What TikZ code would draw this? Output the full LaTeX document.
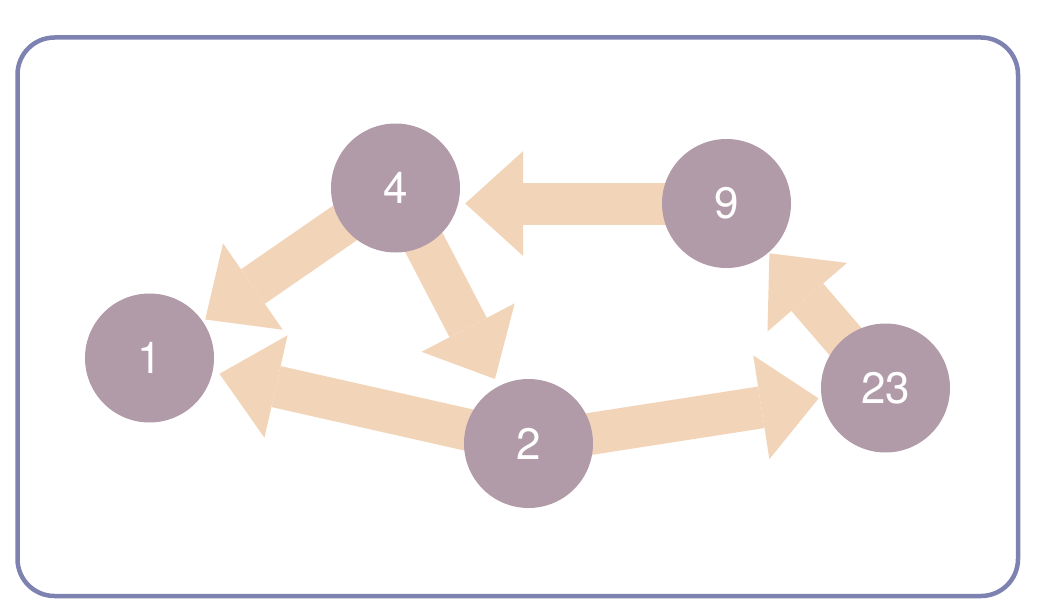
\documentclass[tikz,border=0pt]{standalone}
\usepackage{fontspec}
\setmainfont{TeX Gyre Heros}
\usepackage{tikz}
\usetikzlibrary{arrows.meta,backgrounds}
\definecolor{framecol}{RGB}{126,130,176}
\definecolor{vertcol}{RGB}{178,155,168}
\definecolor{arrcol}{RGB}{242,213,185}

\begin{document}
\begin{tikzpicture}[x=1pt,y=-1pt,
	vert/.style={circle,fill=vertcol,minimum size=129pt,inner sep=0pt,text=white,font=\fontsize{44}{50}\selectfont},
	fat/.style={draw=arrcol,line width=42pt,-{Triangle[width=105pt,length=58pt,line width=0pt]}}]

	\useasboundingbox (0,0) rectangle (1058,610);
	\draw[framecol,line width=4.5pt,rounded corners=37pt] (17.5,37.5) rectangle (1018,596);

	\node[vert] (v4) at (395.5,188) {4};
	\node[vert] (v9) at (726.5,203.5) {9};
	\node[vert] (v1) at (149.5,358) {1};
	\node[vert] (v2) at (528.5,443.5) {2};
	\node[vert] (v23) at (885.5,388) {23};

	\begin{pgfonlayer}{background}
		\draw[fat,shorten >=5pt] (v9.center) -- (v9 -| v4.east);
		\draw[fat,shorten >=3pt] (v4.center) -- (v1);
		\draw[fat,shorten >=8pt] (v4.center) -- (v2);
		\draw[fat,shorten >=7pt] (v2.center) -- (v1);
		\draw[fat,shorten >=3pt] (v2.center) -- (v23);
		\draw[fat,shorten >=1pt] (v23.center) -- (v9);
	\end{pgfonlayer}
\end{tikzpicture}
\end{document}
